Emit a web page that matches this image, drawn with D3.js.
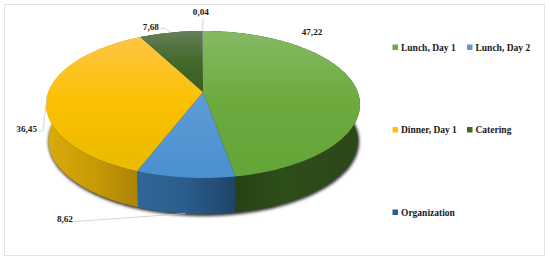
<!DOCTYPE html>
<html>
<head>
<meta charset="utf-8">
<script src="https://cdn.jsdelivr.net/npm/d3@7"></script>
<style>
  html, body { margin: 0; padding: 0; background: #fff; }
  svg { display: block; }
  text { font-family: "Liberation Serif", serif; font-weight: bold; fill: #1a1a1a; }
</style>
</head>
<body>
<svg id="chart" width="550" height="261"></svg>
<script>
// values as printed on the chart, clockwise from 12 o'clock
const categories = ["Lunch, Day 1", "Lunch, Day 2", "Dinner, Day 1", "Catering", "Organization"];
const values = [47.22, 8.62, 36.45, 7.68, 0.04];
const labels = ["47,22", "8,62", "36,45", "7,68", "0,04"];

const colours = ["#6fac46", "#5b9bd5", "#fdc010", "#3f6a22", "#285f96"];

const svg = d3.select("#chart");
const defs = svg.append("defs");

// pie is a tilted disc seen in perspective, centre of disc is not centre of ellipse
const cx = 203, cy = 92, a = 154.7, b = 71.4, k = 0.17, depth = 36, shrink = 0.985;

function project(angle, r){
    const u = r * Math.sin(angle), v = -r * Math.cos(angle);
    const w = 1 - k * v;
    return [cx + a * u / w, cy + b * v / w];
}
function down(p){
    return [cx + (p[0] - cx) * shrink, p[1] + depth];
}

const line = d3.line();
const slices = d3.pie().sort(null).startAngle(0).endAngle(2 * Math.PI)(values);

function arcPoints(s){
    const n = Math.max(2, Math.ceil((s.endAngle - s.startAngle) / 0.02));
    return d3.range(n + 1).map(i => project(s.startAngle + (s.endAngle - s.startAngle) * i / n, 1));
}

function gradient(id, horizontal, stops){
    const g = defs.append("linearGradient").attr("id", id)
        .attr("x1", 0).attr("y1", 0)
        .attr("x2", horizontal ? 1 : 0).attr("y2", horizontal ? 0 : 1);
    stops.forEach((c, i) => g.append("stop").attr("offset", i / (stops.length - 1)).attr("stop-color", c));
    return "url(#" + id + ")";
}

const topFill = [
    gradient("t0", false, ["#85ba63", "#6caa3e", "#63a538"]),
    gradient("t1", false, ["#5e9cd6", "#4a90cf"]),
    gradient("t2", false, ["#fdc644", "#fbc000", "#e9ba00"]),
    gradient("t3", false, ["#66805a", "#42682a", "#38601f"]),
    gradient("t4", false, ["#b9c4c9", "#b9c4c9"])
];
const wallFill = [
    gradient("w0", true, ["#223c12", "#2d4d19", "#2b4817"]),
    gradient("w1", true, ["#2f6698", "#2a5d8b", "#1f4467"]),
    gradient("w2", true, ["#dcab0a", "#c79a06", "#a98103"]),
    gradient("w3", true, ["#2a4516", "#2a4516"]),
    gradient("w4", true, ["#1f4467", "#1f4467"])
];

defs.append("filter").attr("id", "blur")
    .attr("x", "-5%").attr("y", "-5%").attr("width", "110%").attr("height", "110%")
    .append("feGaussianBlur").attr("stdDeviation", 1.5);

// frame
svg.append("rect")
    .attr("x", 4.5).attr("y", 4.5).attr("width", 540).attr("height", 251)
    .attr("fill", "#fff").attr("stroke", "#e4e4e4").attr("stroke-width", 1);

// soft shadow under the rim
const rim = d3.range(0, 2 * Math.PI, 0.02).map(t => down(project(t, 1)));
svg.append("path")
    .attr("d", line(rim) + "Z")
    .attr("transform", "translate(0.8,1.2)")
    .attr("fill", "#333")
    .attr("stroke", "#333")
    .attr("stroke-width", 1.6)
    .attr("filter", "url(#blur)");

// walls
svg.append("g").selectAll("path")
    .data(slices)
    .enter()
    .append("path")
    .attr("d", s => {
        const pts = arcPoints(s);
        return line(pts.concat(pts.slice().reverse().map(down))) + "Z";
    })
    .attr("fill", (s, i) => wallFill[i]);

// top face
svg.append("g").selectAll("path")
    .data(slices)
    .enter()
    .append("path")
    .attr("d", s => line([[cx, cy]].concat(arcPoints(s))) + "Z")
    .attr("fill", (s, i) => topFill[i]);

// data labels placed off the slice edge, text end at dx,dy from it
const labelDx = [0, -112.5, -10, -12, 0];
const labelDy = [0, 8.5, 35.5, -3, -16];
const labelOnRim = [false, true, false, false, false];
// leader start relative to the text, and optional elbow
const leaderY = [0, -0.5, -0.5, -1, 0];
const elbowX = [0, 0, 6, 6, 0];

const labelG = svg.append("g");
slices.forEach((s, i) => {
    if(i === 0){
        labelG.append("text").attr("x", 312).attr("y", 35)
            .attr("text-anchor", "middle").attr("font-size", 9.2).text(labels[i]);
        return;
    }
    const edge = project((s.startAngle + s.endAngle) / 2, 1);
    const p = labelOnRim[i] ? down(edge) : edge;
    const tx = p[0] + labelDx[i], ty = p[1] + labelDy[i];
    const side = labelDx[i] < 0;
    const pts = side
        ? (elbowX[i] ? [[tx + 1.5, ty + leaderY[i]], [tx + elbowX[i], ty + leaderY[i] - 0.5], p] : [[tx + 1.5, ty + leaderY[i]], p])
        : [[p[0], ty + 3], p];
    labelG.append("path")
        .attr("d", line(pts))
        .attr("fill", "none").attr("stroke", "#c9c9c9").attr("stroke-width", 0.8);
    labelG.append("text")
        .attr("x", side ? tx : p[0] - 2)
        .attr("y", ty)
        .attr("text-anchor", side ? "end" : "middle")
        .attr("font-size", 9.2)
        .text(labels[i]);
});

// legend
const legendX = [392.5, 467, 392.5, 467, 392.5];
const legendY = [47, 47, 129.5, 129.5, 212];
const legend = svg.append("g").selectAll("g")
    .data(categories)
    .enter()
    .append("g")
    .attr("transform", (d, i) => "translate(" + legendX[i] + "," + legendY[i] + ")");
legend.append("rect")
    .attr("x", 0).attr("y", -2.5).attr("width", 5.5).attr("height", 5.5)
    .attr("fill", (d, i) => colours[i]);
legend.append("text")
    .attr("x", 8.5).attr("y", 3.5)
    .attr("font-size", 9.5)
    .text(d => d);
</script>
</body>
</html>
